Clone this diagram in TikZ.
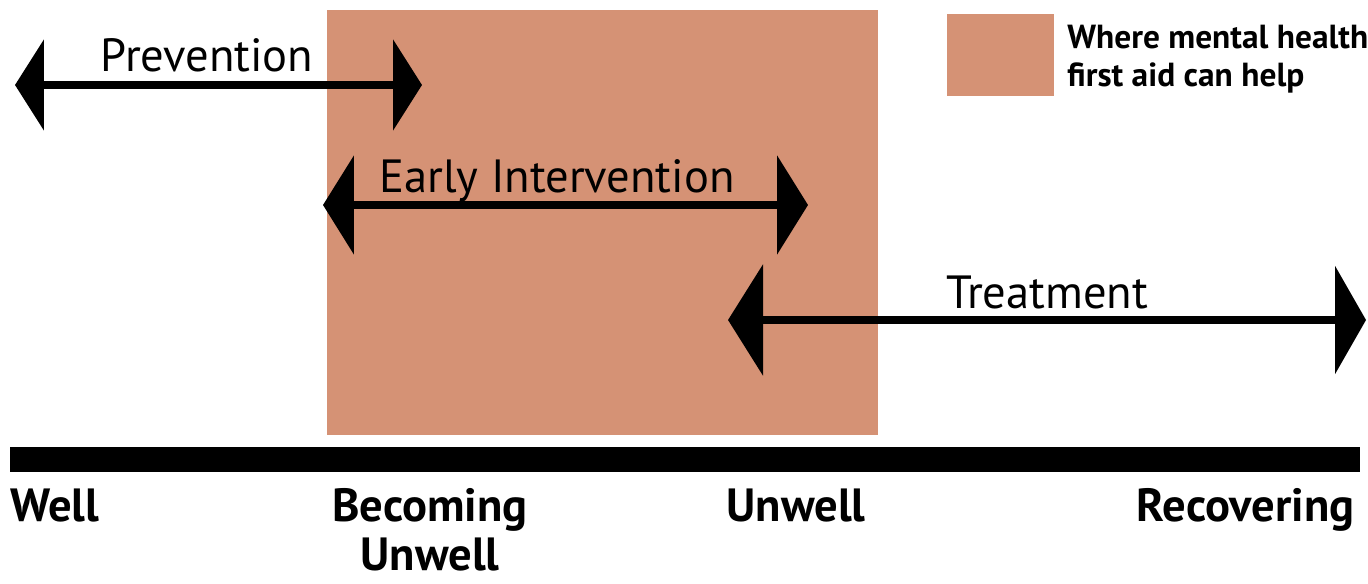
\documentclass[tikz,border=0pt]{standalone}
\usepackage{fontspec}
\setmainfont{PT Sans}
\usetikzlibrary{arrows.meta}
\definecolor{mhfa}{RGB}{213,146,117}
\tikzset{
  span/.style={line width=0.16cm},
  lbl/.style={inner sep=0pt, font=\fontsize{26.5}{30}\selectfont},
  stage/.style={inner sep=0pt, font=\bfseries\fontsize{26.5}{30}\selectfont},
}
\begin{document}
\begin{tikzpicture}[x=0.02cm,y=-0.02cm]
\useasboundingbox (0,0) rectangle (1368,584);
\fill[white] (0,0) rectangle (1368,584);
% shaded region
\fill[mhfa] (327,10) rectangle (878,435);
% legend
\node[fill=mhfa, minimum width=2.14cm, minimum height=1.64cm, inner sep=0pt, anchor=north west] (key) at (947,14) {};
\node[inner sep=0pt, font=\bfseries\fontsize{19}{21.5}\selectfont, align=left, anchor=north west] (keytext) at (1067,25) {Where mental health\\first aid can help};
% arrows
\coordinate (p1) at (15,85);  \coordinate (p2) at (422,85);
\coordinate (e1) at (323,205); \coordinate (e2) at (808,205);
\coordinate (t1) at (728,320); \coordinate (t2) at (1366,320);
\draw[span, {Triangle[length=0.58cm,width=1.8cm]}-{Triangle[length=0.58cm,width=1.8cm]}] (p1) -- (p2);
\draw[span, {Triangle[length=0.62cm,width=1.96cm]}-{Triangle[length=0.62cm,width=1.96cm]}] (e1) -- (e2);
\draw[span, {Triangle[length=0.7cm,width=2.2cm]}-{Triangle[length=0.62cm,width=2.14cm]}] (t1) -- (t2);
\node[lbl, anchor=base] (prev) at (207,72) {Prevention};
\node[lbl, anchor=base] (early) at (557,193) {Early Intervention};
\node[lbl, anchor=base] (treat) at (1047,308) {Treatment};
% axis bar
\fill[black] (10,447) rectangle (1360,472);
% stages
\node[stage, anchor=base west] (well) at (10,521) {Well};
\node[stage, anchor=base] (becoming) at (430,521) {Becoming};
\node[stage, anchor=base] (becoming2) at (430,570) {Unwell};
\node[stage, anchor=base] (unwell) at (796,521) {Unwell};
\node[stage, anchor=base east] (recov) at (1355,521) {Recovering};
\end{tikzpicture}
\end{document}
